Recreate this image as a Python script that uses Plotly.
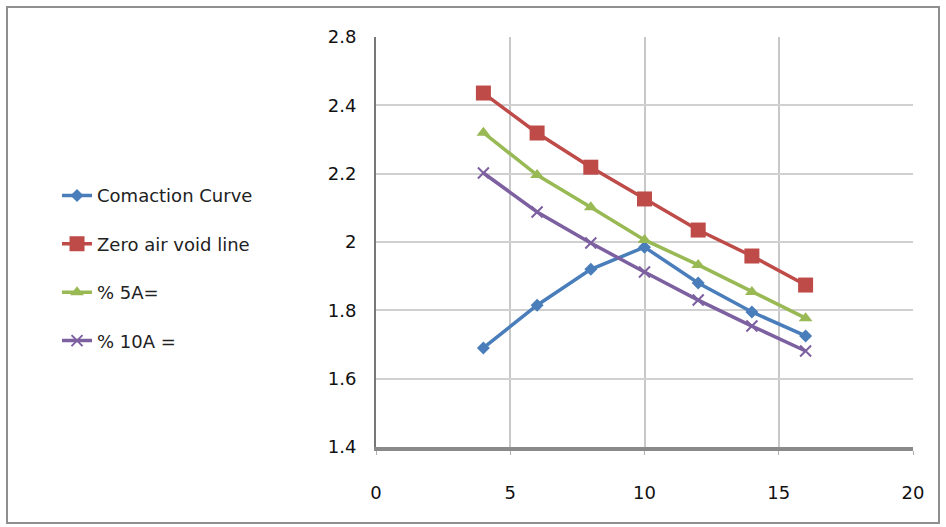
import plotly.graph_objects as go

water_content = [4, 6, 8, 10, 12, 14, 16]
compaction_curve = [1.69, 1.815, 1.92, 1.985, 1.88, 1.795, 1.725]
zero_air_void = [2.436, 2.319, 2.219, 2.126, 2.035, 1.959, 1.874]
air_5 = [2.32, 2.196, 2.102, 2.006, 1.933, 1.854, 1.777]
air_10 = [2.202, 2.088, 1.997, 1.912, 1.83, 1.754, 1.681]

series_names = ["Comaction Curve", "Zero air void line", "% 5A=", "% 10A ="]
x_ticks = [0, 5, 10, 15, 20]
y_tickvals = [1.4, 1.6, 1.8, 2.0, 2.2, 2.4, 2.6]
y_ticktext = ["1.4", "1.6", "1.8", "2", "2.2", "2.4", "2.8"]

styles = [
    dict(color="#4a7ebb", symbol="diamond", size=10),
    dict(color="#be4b48", symbol="square", size=15),
    dict(color="#98b954", symbol="triangle-up", size=12),
    dict(color="#7d60a0", symbol="x-thin", size=11),
]
data = [compaction_curve, zero_air_void, air_5, air_10]

fig = go.Figure()
for i, (name, ys, st) in enumerate(zip(series_names, data, styles)):
    marker = dict(color=st["color"], symbol=st["symbol"], size=st["size"])
    if st["symbol"] == "x-thin":
        marker["line"] = dict(color=st["color"], width=2)
    fig.add_trace(go.Scatter(
        x=water_content, y=ys, name=name, mode="lines+markers",
        line=dict(color=st["color"], width=3.5), marker=marker,
        legendgroup=f"g{i}",
    ))

fig.update_layout(
    width=946, height=527,
    margin=dict(l=376, r=33, t=37, b=80),
    paper_bgcolor="white", plot_bgcolor="white",
    font=dict(family="DejaVu Sans, sans-serif", size=18, color="#222"),
    legend=dict(x=-0.594, y=0.658, xanchor="left", yanchor="top",
                tracegroupgap=22, font=dict(size=18, color="#222"),
                bgcolor="rgba(0,0,0,0)"),
    xaxis=dict(range=[0, 20], tickvals=x_ticks, showgrid=True, gridcolor="#c8c8c8",
               gridwidth=1.5, zeroline=False, showline=True, linecolor="#8a8a8a",
               linewidth=4, ticks="outside", ticklen=4, tickcolor="#b0b0b0",
               ticklabelstandoff=22,
               tickfont=dict(size=18, color="#111")),
    yaxis=dict(range=[1.4, 2.6], tickvals=y_tickvals, ticktext=y_ticktext,
               showgrid=True, gridcolor="#d0d0d0", gridwidth=1.5, zeroline=False,
               showline=True, linecolor="#777", linewidth=2, ticks="",
               tickfont=dict(size=18, color="#111"), ticklabelstandoff=14),
    shapes=[dict(type="rect", xref="paper", yref="paper",
                 x0=-369/537, x1=(946-7-376)/537, y0=-(527-447-4)/410, y1=1+(37-7)/410,
                 line=dict(color="#8f8f8f", width=2), layer="below")],
)

fig.write_html("out.html", config={"displayModeBar": False},
               post_script="document.body.style.margin='0';document.body.style.padding='0';")
